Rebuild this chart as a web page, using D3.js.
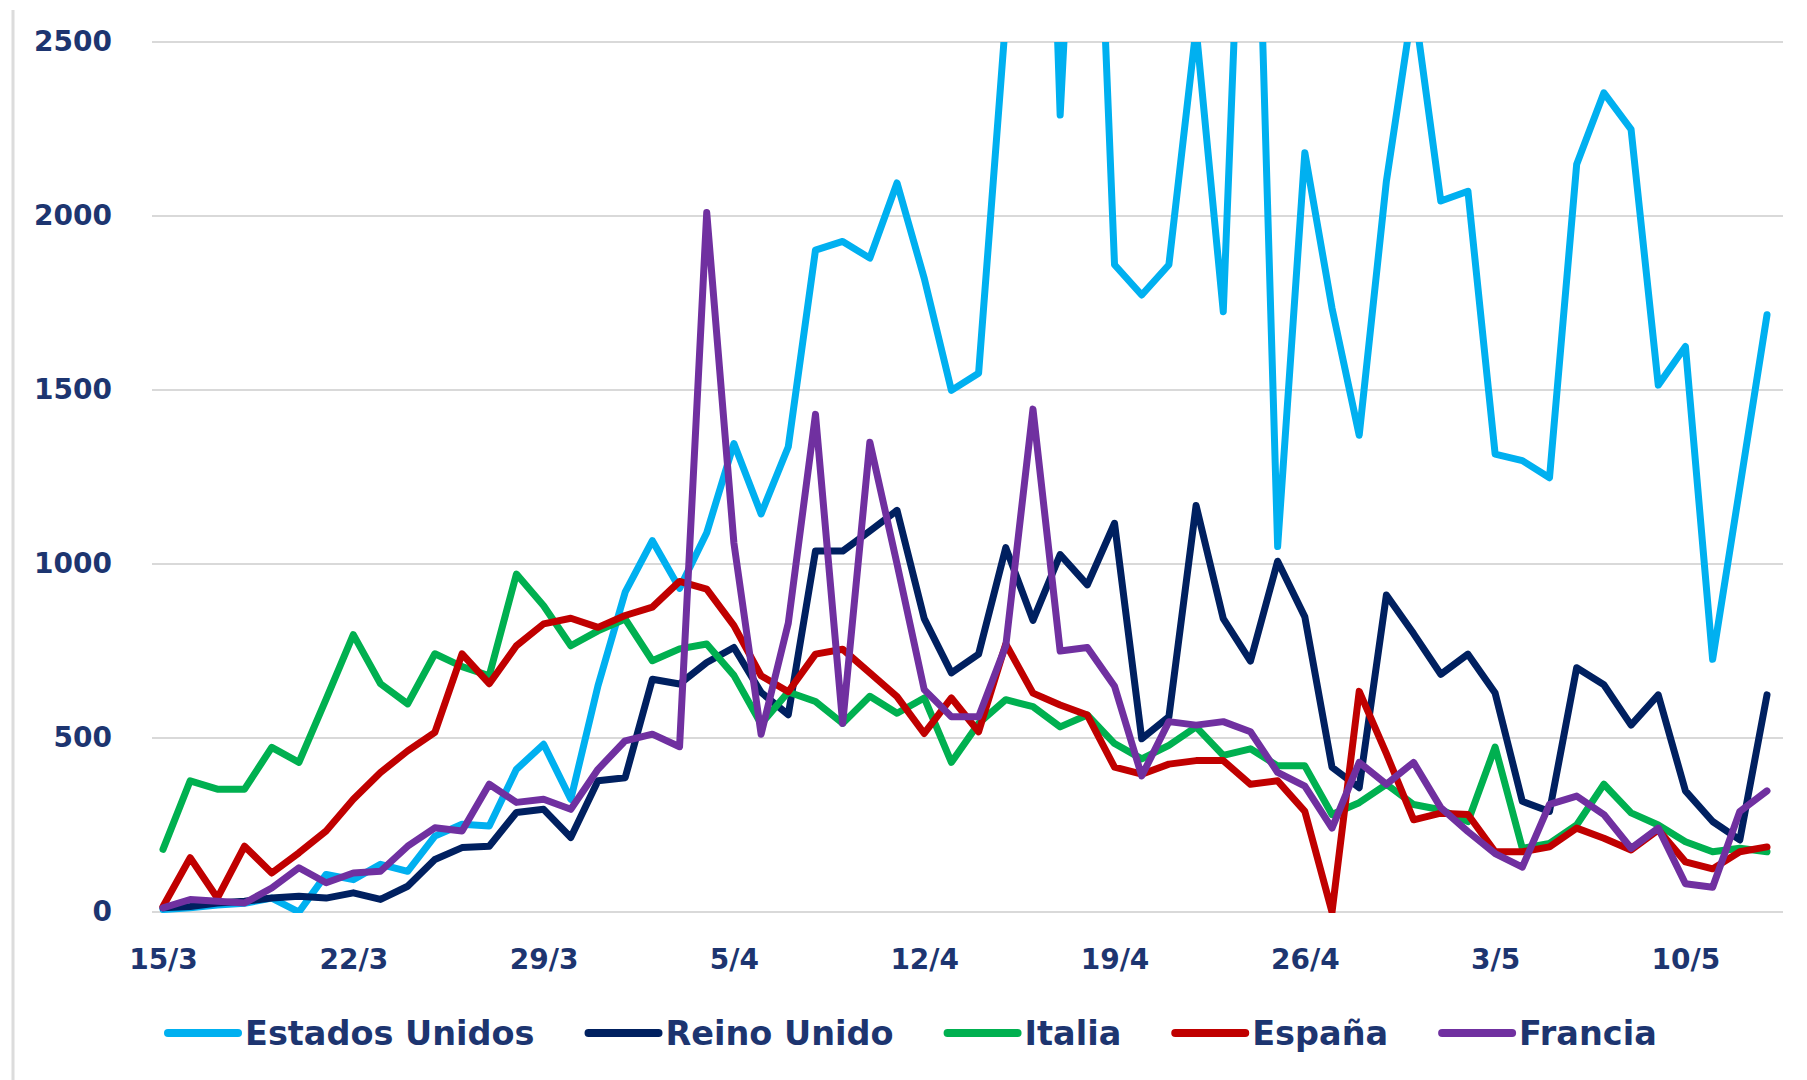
<!DOCTYPE html>
<html>
<head>
<meta charset="utf-8">
<script src="https://cdn.jsdelivr.net/npm/d3@7"></script>
<style>
  html, body { margin: 0; padding: 0; background: #ffffff; }
  svg { display: block; }
</style>
</head>
<body>
<svg id="chart" width="1807" height="1080"></svg>
<script>
// Daily deaths by country, 15 March – 13 May
const dates = [
  "15/3","16/3","17/3","18/3","19/3","20/3","21/3","22/3","23/3","24/3","25/3","26/3","27/3","28/3","29/3","30/3","31/3",
  "1/4","2/4","3/4","4/4","5/4","6/4","7/4","8/4","9/4","10/4","11/4","12/4","13/4","14/4","15/4","16/4","17/4","18/4","19/4","20/4",
  "21/4","22/4","23/4","24/4","25/4","26/4","27/4","28/4","29/4","30/4",
  "1/5","2/5","3/5","4/5","5/5","6/5","7/5","8/5","9/5","10/5","11/5","12/5","13/5"
];

const xTickLabels = ["15/3","22/3","29/3","5/4","12/4","19/4","26/4","3/5","10/5"];
const yTickValues = [0, 500, 1000, 1500, 2000, 2500];

const estadosUnidos = [7, 12, 20, 25, 40, 0, 108, 93, 137, 117, 218, 252, 247, 410, 482, 324, 650, 919, 1067, 930,
  1090, 1346, 1144, 1337, 1902, 1927, 1879, 2095, 1821, 1499, 1548, 2570, 4600, 2290, 3800, 1860, 1773, 1860, 2540, 1725,
  3700, 1050, 2182, 1735, 1370, 2100, 2620, 2043, 2071, 1316, 1297, 1248, 2149, 2354, 2249, 1514, 1625, 726, 1220, 1716];

const reinoUnido = [12, 16, 26, 31, 40, 45, 40, 55, 36, 74, 151, 185, 189, 286, 295, 214, 377, 386, 669, 655,
  717, 760, 631, 567, 1037, 1037, 1095, 1154, 843, 687, 741, 1047, 838, 1027, 940, 1117, 498, 561, 1168, 843,
  721, 1008, 848, 416, 357, 911, 800, 683, 741, 629, 318, 289, 702, 653, 537, 624, 348, 260, 207, 624];

const italia = [180, 377, 353, 353, 473, 430, 612, 797, 656, 598, 742, 705, 679, 971, 880, 765, 808, 842, 722, 756,
  770, 680, 540, 632, 605, 542, 620, 571, 615, 430, 542, 610, 590, 532, 566, 484, 440, 479, 532, 450,
  469, 420, 420, 280, 314, 367, 309, 294, 260, 474, 183, 197, 250, 367, 285, 250, 202, 173, 183, 173];

const espana = [16, 156, 40, 189, 112, 170, 233, 324, 401, 463, 516, 742, 656, 765, 828, 844, 818, 852, 876, 950,
  928, 823, 679, 633, 741, 755, 687, 619, 513, 615, 518, 770, 629, 595, 566, 416, 396, 425, 435, 435,
  367, 377, 289, 0, 634, 455, 265, 284, 280, 173, 173, 187, 241, 212, 178, 236, 144, 124, 173, 187];

const francia = [12, 36, 31, 26, 69, 127, 84, 112, 117, 189, 242, 233, 367, 315, 324, 295, 410, 492, 511, 475,
  2010, 1060, 511, 830, 1430, 542, 1350, 1000, 639, 561, 561, 765, 1445, 750, 760, 649, 391, 547, 537, 547,
  518, 401, 362, 241, 430, 367, 430, 300, 231, 168, 129, 309, 333, 280, 183, 241, 81, 71, 289, 348];

const seriesNames = ["Estados Unidos", "Reino Unido", "Italia", "España", "Francia"];
const seriesValues = [estadosUnidos, reinoUnido, italia, espana, francia];
const seriesColors = ["#00b0f0", "#002060", "#00b050", "#c00000", "#7030a0"];

const TEXT_COLOR = "#1d3570";
const GRID_COLOR = "#d9d9d9";
const FONT = "'DejaVu Sans', Verdana, sans-serif";

const svg = d3.select("#chart");

// frame edge on the left
svg.append("line")
  .attr("x1", 13).attr("x2", 13).attr("y1", 10).attr("y2", 1080)
  .attr("stroke", "#dcdcdc").attr("stroke-width", 3);

const x = d3.scalePoint().domain(dates).range([163, 1767]);
const y = d3.scaleLinear().domain([0, 2500]).range([912, 42]);

const gridLeft = 152, gridRight = 1783;

// horizontal gridlines
svg.append("g").selectAll("line")
  .data(yTickValues)
  .join("line")
  .attr("x1", gridLeft).attr("x2", gridRight)
  .attr("y1", d => y(d)).attr("y2", d => y(d))
  .attr("stroke", GRID_COLOR).attr("stroke-width", 2.2);

// y axis labels
const yAxis = svg.append("g")
  .attr("transform", `translate(${gridLeft},0)`)
  .call(d3.axisLeft(y).tickValues(yTickValues).tickSize(0).tickPadding(40).tickFormat(d3.format("d")));
yAxis.select(".domain").remove();
yAxis.selectAll("text")
  .attr("fill", TEXT_COLOR)
  .style("font-family", FONT)
  .style("font-weight", "bold")
  .style("font-size", "28px");

// x axis labels
const xAxis = svg.append("g")
  .attr("transform", `translate(0,${y(0)})`)
  .call(d3.axisBottom(x).tickValues(xTickLabels).tickSize(0).tickPadding(37));
xAxis.select(".domain").remove();
xAxis.selectAll("text")
  .attr("fill", TEXT_COLOR)
  .style("font-family", FONT)
  .style("font-weight", "bold")
  .style("font-size", "28px");

// plot area clip
svg.append("defs").append("clipPath").attr("id", "plot-clip")
  .append("rect")
  .attr("x", 140).attr("y", y(2500))
  .attr("width", 1660).attr("height", y(0) - y(2500) + 1);

const line = d3.line()
  .x((d, i) => x(dates[i]))
  .y(d => y(d));

svg.append("g")
  .attr("clip-path", "url(#plot-clip)")
  .selectAll("path")
  .data(seriesValues)
  .join("path")
  .attr("d", d => line(d))
  .attr("fill", "none")
  .attr("stroke", (d, i) => seriesColors[i])
  .attr("stroke-width", 7)
  .attr("stroke-linejoin", "round")
  .attr("stroke-linecap", "round");

// legend
const legend = svg.append("g").attr("transform", "translate(0,1033)");
let cursor = 168;
seriesNames.forEach((name, i) => {
  const item = legend.append("g").attr("transform", `translate(${cursor},0)`);
  item.append("line")
    .attr("x1", 0).attr("x2", 70).attr("y1", 0).attr("y2", 0)
    .attr("stroke", seriesColors[i]).attr("stroke-width", 8)
    .attr("stroke-linecap", "round");
  const t = item.append("text")
    .attr("x", 77).attr("y", 0).attr("dy", "0.36em")
    .attr("fill", TEXT_COLOR)
    .style("font-family", FONT)
    .style("font-weight", "bold")
    .style("font-size", "33.5px")
    .text(name);
  cursor += 77 + t.node().getComputedTextLength() + 54;
});
</script>
</body>
</html>
